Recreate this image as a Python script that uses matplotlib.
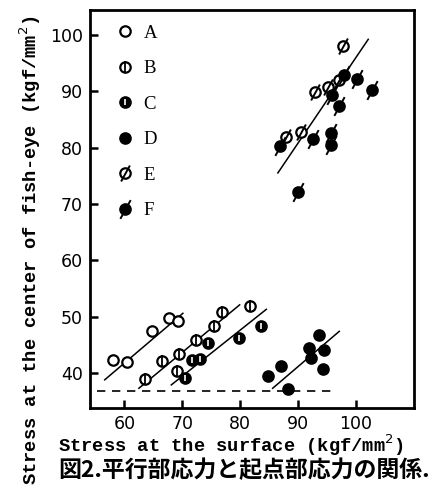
import matplotlib
matplotlib.use("Agg")
import matplotlib.pyplot as plt
from matplotlib.path import Path
from matplotlib.legend_handler import HandlerTuple

# ---------------- data ----------------
A_x = [58.1, 60.4, 64.7, 67.7, 69.3]
A_y = [42.4, 41.9, 47.4, 49.8, 49.2]
B_x = [63.6, 66.5, 69.0, 69.4, 72.4, 75.4, 76.9, 81.7]
B_y = [39.0, 42.2, 40.3, 43.4, 45.9, 48.3, 50.9, 51.9]
C_x = [70.4, 71.6, 73.0, 74.4, 79.8, 83.5]
C_y = [39.1, 42.4, 42.5, 45.3, 46.2, 48.4]
D_x = [84.8, 87.1, 88.2, 91.9, 92.2, 93.6, 94.5, 94.3]
D_y = [39.4, 41.3, 37.2, 44.4, 42.7, 46.8, 44.0, 40.7]
E_x = [87.9, 90.5, 92.9, 95.1, 97.1, 97.7]
E_y = [81.8, 82.7, 89.9, 90.7, 92.0, 98.1]
F_x = [86.8, 89.9, 92.5, 95.7, 95.7, 95.9, 97.1, 98.0, 100.1, 102.8]
F_y = [80.2, 72.2, 81.5, 82.6, 80.5, 89.3, 87.3, 92.9, 92.1, 90.2]

lineA_x, lineA_y = [56.6, 70.1], [38.8, 50.6]
lineB_x, lineB_y = [62.5, 79.9], [37.3, 52.1]
lineC_x, lineC_y = [68.1, 84.5], [37.9, 51.3]
lineD_x, lineD_y = [85.6, 97.1], [37.3, 47.4]
lineEF_x, lineEF_y = [86.5, 102.1], [75.5, 99.2]
limit_x, limit_y = [55.2, 96.2], [36.9, 36.9]

labels = ["A", "B", "C", "D", "E", "F"]
xticks = [60, 70, 80, 90, 100]
yticks = [40, 50, 60, 70, 80, 90, 100]

# ---------------- figure ----------------
fig = plt.figure(figsize=(4.31, 4.92), dpi=100)
ax = fig.add_axes([90/431, 1-408/492, 324/431, 398/492])
ax.set_xlim(54.06, 110.0)
ax.set_ylim(33.8, 104.4)

lw_fit = 1.1
for xs, ys in [(lineA_x, lineA_y), (lineB_x, lineB_y), (lineC_x, lineC_y),
               (lineD_x, lineD_y), (lineEF_x, lineEF_y)]:
    ax.plot(xs, ys, color="black", lw=lw_fit, zorder=2)
ax.plot(limit_x, limit_y, color="black", lw=1.2, ls=(0, (5, 4)), zorder=2)

slash = Path([(-0.55, -1.0), (0.55, 1.0)], [Path.MOVETO, Path.LINETO])
ms = 7.5
mew = 1.6

def pts(x, y, face, extra=None):
    h = []
    h.append(ax.plot(x, y, ls="none", marker="o", ms=ms, mfc=face, mec="black",
                     mew=mew, zorder=3)[0])
    if extra is not None:
        h.append(ax.plot(x, y, ls="none", zorder=4, **extra)[0])
    return tuple(h)

hA = pts(A_x, A_y, "white")
hB = pts(B_x, B_y, "white", dict(marker="|", ms=8.5, mec="black", mew=1.3))
hC = pts(C_x, C_y, "black", dict(marker="|", ms=5, mec="white", mew=1.2))
hD = pts(D_x, D_y, "black")
hE = pts(E_x, E_y, "white", dict(marker=slash, ms=11.5, mfc="none", mec="black", mew=1.4))
hF = pts(F_x, F_y, "black", dict(marker=slash, ms=13.5, mfc="none", mec="black", mew=1.4))

leg = ax.legend([hA, hB, hC, hD, hE, hF], labels,
                handler_map={tuple: HandlerTuple(ndivide=1, pad=0)},
                loc="upper left", bbox_to_anchor=(0.079, 0.963),
                borderaxespad=0, borderpad=0, frameon=False,
                handlelength=1.0, handletextpad=0.5, labelspacing=0.98,
                prop={"family": "Liberation Serif", "size": 13.5})

# ticks and spines
ax.set_xticks(xticks)
ax.set_yticks(yticks)
ax.tick_params(direction="in", length=6, width=1.8, pad=5,
               labelsize=12.5, top=False, right=False)
for lab in ax.get_xticklabels() + ax.get_yticklabels():
    lab.set_fontfamily("DejaVu Sans")
for s in ax.spines.values():
    s.set_linewidth(2.0)

mono = {"family": "Liberation Mono", "weight": "bold", "size": 13.5}
fig.text(30/431, 1-250/492, "Stress at the center of fish-eye (kgf/mm$^2$)",
         rotation=90, ha="center", va="center", fontdict=mono)
fig.text(58/431, 1-445/492, "Stress at the surface (kgf/mm$^2$)",
         ha="left", va="center", fontdict=mono)
fig.text(58/431, 1-471/492, "図2.平行部応力と起点部応力の関係.",
         ha="left", va="center",
         fontdict={"family": ["Noto Sans CJK JP", "DejaVu Sans"], "weight": "bold", "size": 16.5})

fig.savefig("out.png", dpi=100)
